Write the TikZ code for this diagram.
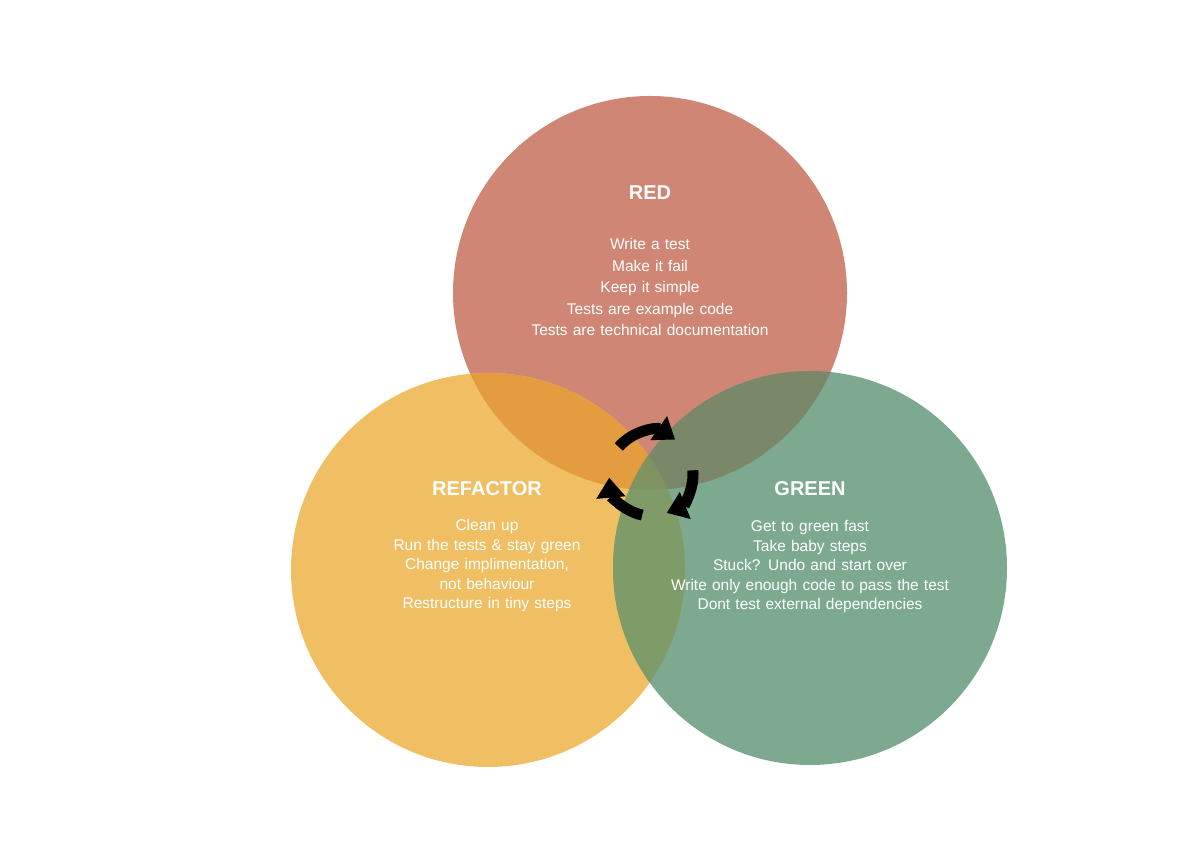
\documentclass[tikz,border=0pt]{standalone}
\usepackage{fontspec}
\setmainfont{Liberation Sans}
\usetikzlibrary{arrows.meta}
\definecolor{cred}{HTML}{D08674}
\definecolor{cyel}{HTML}{F0BF63}
\definecolor{cgrn}{HTML}{7CA98F}
\definecolor{cry}{HTML}{E49C40}
\definecolor{crg}{HTML}{7B8769}
\definecolor{cyg}{HTML}{7E9B68}
\definecolor{call}{HTML}{809260}
\tikzset{
  ttl/.style={text=white,font=\fontsize{20}{24}\selectfont\bfseries},
  body/.style={text=white,align=center,font=\fontsize{15.5}{19.5}\selectfont},
  cyc/.style={line width=11pt,-{Triangle[width=28pt,length=20pt]},black}
}
\begin{document}
\begin{tikzpicture}[x=1pt,y=1pt]
\useasboundingbox (0,0) rectangle (1191,842);
\coordinate (R) at (650,549);
\coordinate (Y) at (488,272);
\coordinate (G) at (810,274);
\fill[cred] (R) circle (197);
\fill[cyel] (Y) circle (197);
\fill[cgrn] (G) circle (197);
\begin{scope}\clip (R) circle (197); \fill[cry] (Y) circle (197);\end{scope}
\begin{scope}\clip (R) circle (197); \fill[crg] (G) circle (197);\end{scope}
\begin{scope}\clip (Y) circle (197); \fill[cyg] (G) circle (197);\end{scope}
\begin{scope}\clip (R) circle (197); \clip (Y) circle (197); \fill[call] (G) circle (197);\end{scope}
\coordinate (C) at (651,368);
\draw[cyc] ([shift={(140:42)}]C) arc (140:55:42);
\draw[cyc] ([shift={(5:42)}]C) arc (5:-68:42);
\draw[cyc] ([shift={(258:42)}]C) arc (258:185:42);
\node[ttl] (rt) at (650,649) {RED};
\node[body,text width=320pt] (rb) at (650,555) {Write a test\\[2pt]Make it fail\\[2pt]Keep it simple\\[2pt]Tests are example code\\[2pt]Tests are technical documentation};
\node[ttl] (yt) at (487,353) {REFACTOR};
\node[body,text width=260pt] (yb) at (487,276) {Clean up\\Run the tests \& stay green\\Change implimentation,\\not behaviour\\Restructure in tiny steps};
\node[ttl] (gt) at (810,353) {GREEN};
\node[body,text width=320pt] (gb) at (810,275) {Get to green fast\\Take baby steps\\Stuck? Undo and start over\\Write only enough code to pass the test\\Dont test external dependencies};
\end{tikzpicture}
\end{document}
